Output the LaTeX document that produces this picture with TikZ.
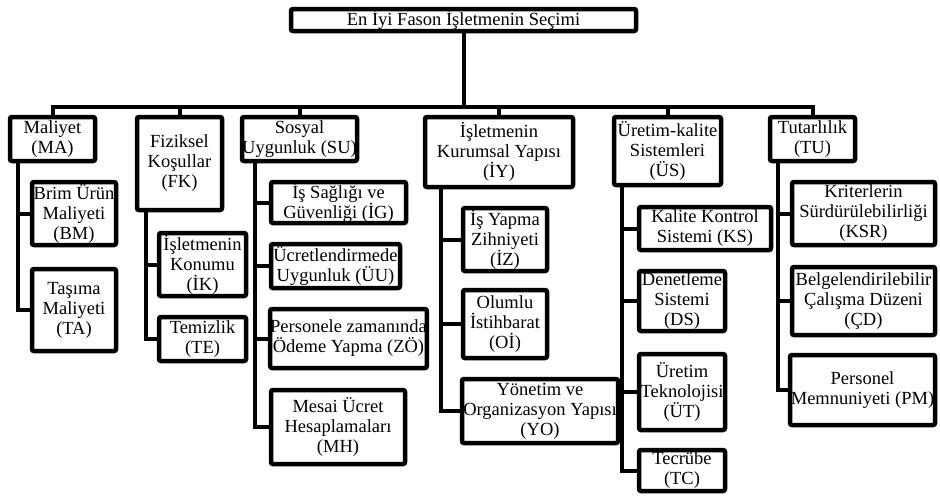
\documentclass[tikz,border=0pt]{standalone}
\usepackage{fontspec}
\setmainfont{Liberation Serif}
\begin{document}
\begin{tikzpicture}[x=1pt,y=1pt,
	crit/.style={draw,line width=4.5pt,rounded corners=2pt,inner sep=0pt,align=center,font=\fontsize{18.5}{20}\selectfont},
	link/.style={line width=4pt}]
	\useasboundingbox (0,0) rectangle (940,-496);
	\node (goal) at (463.5,-20) [crit,minimum width=345,minimum height=22] {En İyi Fason İşletmenin Seçimi};
	% main criteria
	\node (ma) at (52.5,-139) [crit,minimum width=85,minimum height=44] {Maliyet\\(MA)};
	\node (fk) at (179.5,-163.5) [crit,minimum width=85,minimum height=93] {Fiziksel\\Koşullar\\(FK)};
	\node (su) at (299.5,-139) [crit,minimum width=115,minimum height=44] {Sosyal\\Uygunluk (SU)};
	\node (iy) at (499,-152) [crit,minimum width=148,minimum height=70] {İşletmenin\\Kurumsal Yapısı\\(İY)};
	\node (us) at (667.5,-151) [crit,minimum width=107,minimum height=68] {Üretim-kalite\\Sistemleri\\(ÜS)};
	\node (tu) at (812.5,-139) [crit,minimum width=85,minimum height=44] {Tutarlılık\\(TU)};
	% sub criteria
	\node (bm) at (74,-213.5) [crit,minimum width=84,minimum height=63] {Brim Ürün\\Maliyeti\\(BM)};
	\node (ta) at (74,-310) [crit,minimum width=84,minimum height=82] {Taşıma\\Maliyeti\\(TA)};
	\node (ik) at (202.5,-264.5) [crit,minimum width=87,minimum height=63] {İşletmenin\\Konumu\\(İK)};
	\node (te) at (202.5,-339) [crit,minimum width=87,minimum height=44] {Temizlik\\(TE)};
	\node (ig) at (338.5,-202.5) [crit,minimum width=135,minimum height=41] {İş Sağlığı ve\\Güvenliği (İG)};
	\node (uu) at (335.5,-266) [crit,minimum width=129,minimum height=44] {Ücretlendirmede\\Uygunluk (ÜU)};
	\node (zo) at (348.5,-338.5) [crit,minimum width=155,minimum height=59] {Personele zamanında\\Ödeme Yapma (ZÖ)};
	\node (mh) at (338,-427) [crit,minimum width=134,minimum height=74] {Mesai Ücret\\Hesaplamaları\\(MH)};
	\node (iz) at (505,-239.5) [crit,minimum width=84,minimum height=63] {İş Yapma\\Zihniyeti\\(İZ)};
	\node (oi) at (505,-324) [crit,minimum width=84,minimum height=68] {Olumlu\\İstihbarat\\(Oİ)};
	\node (yo) at (540,-411) [crit,minimum width=156,minimum height=64] {Yönetim ve\\Organizasyon Yapısı\\(YO)};
	\node (ks) at (705,-228.5) [crit,minimum width=132,minimum height=43] {Kalite Kontrol\\Sistemi (KS)};
	\node (ds) at (682,-301) [crit,minimum width=86,minimum height=60] {Denetleme\\Sistemi\\(DS)};
	\node (ut) at (682,-392) [crit,minimum width=86,minimum height=76] {Üretim\\Teknolojisi\\(ÜT)};
	\node (tc) at (682,-470.5) [crit,minimum width=86,minimum height=41] {Tecrübe\\(TC)};
	\node (ksr) at (863.5,-213.5) [crit,minimum width=143,minimum height=63] {Kriterlerin\\Sürdürülebilirliği\\(KSR)};
	\node (cd) at (863.5,-301) [crit,minimum width=143,minimum height=68] {Belgelendirilebilir\\Çalışma Düzeni\\(ÇD)};
	\node (pm) at (862.5,-390) [crit,minimum width=145,minimum height=70] {Personel\\Memnuniyeti (PM)};
	% connectors
	\coordinate (bus) at (465,-107);
	\draw [link] (goal.south) -- (goal.south |- bus);
	\draw [link] (ma.north) |- (bus) -| (tu.north);
	\foreach \n in {fk,su,iy,us}
		\draw [link] (\n.north |- bus) -- (\n.north);
	\foreach \c in {bm,ta}
		\draw [link] ([xshift=10]ma.south west) |- (\c.west);
	\foreach \c in {ik,te}
		\draw [link] ([xshift=11]fk.south west) |- (\c.west);
	\foreach \c in {ig,uu,zo,mh}
		\draw [link] ([xshift=15]su.south west) |- (\c.west);
	\foreach \c in {iz,oi,yo}
		\draw [link] ([xshift=18]iy.south west) |- (\c.west);
	\foreach \c in {ks,ds,ut,tc}
		\draw [link] ([xshift=10]us.south west) |- (\c.west);
	\foreach \c in {ksr,cd,pm}
		\draw [link] ([xshift=10]tu.south west) |- (\c.west);
\end{tikzpicture}
\end{document}
